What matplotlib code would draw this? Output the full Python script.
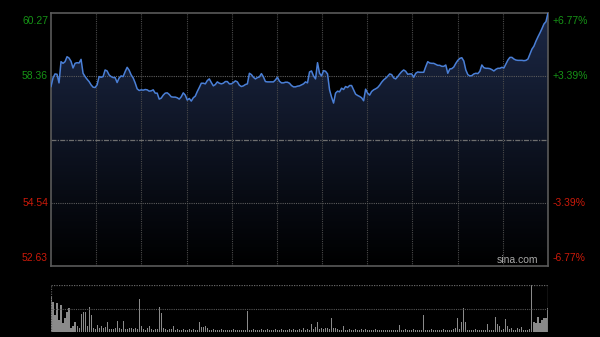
import numpy as np
import matplotlib
matplotlib.use("Agg")
import matplotlib.pyplot as plt
from matplotlib.colors import LinearSegmentedColormap
import matplotlib.transforms as mtransforms

prev_close = 56.45
y_low, y_high = 52.63, 60.27
left_ticks = ["60.27", "58.36", "54.54", "52.63"]
right_ticks = ["+6.77%", "+3.39%", "-3.39%", "-6.77%"]
tick_values = [60.27, 58.36, 54.54, 52.63]

price = [
    58.05, 58.31, 58.43, 58.42, 58.16, 58.80, 58.75, 58.80, 58.95, 58.91,
    58.81, 58.61, 58.75, 58.77, 58.76, 58.87, 58.45, 58.35, 58.27, 58.20,
    58.10, 58.03, 58.02, 58.10, 58.35, 58.33, 58.35, 58.55, 58.52, 58.40,
    58.35, 58.32, 58.32, 58.17, 58.31, 58.37, 58.35, 58.50, 58.63, 58.54,
    58.40, 58.31, 58.16, 57.98, 57.93, 57.95, 57.94, 57.96, 57.95, 57.91,
    57.92, 57.95, 57.85, 57.85, 57.67, 57.70, 57.79, 57.85, 57.86, 57.81,
    57.74, 57.73, 57.73, 57.71, 57.67, 57.74, 57.86, 57.79, 57.64, 57.69,
    57.61, 57.71, 57.76, 57.90, 58.02, 58.15, 58.15, 58.13, 58.23, 58.28,
    58.17, 58.07, 58.11, 58.19, 58.15, 58.13, 58.15, 58.20, 58.20, 58.13,
    58.13, 58.17, 58.22, 58.19, 58.09, 58.05, 58.07, 58.11, 58.13, 58.45,
    58.41, 58.33, 58.28, 58.32, 58.34, 58.44, 58.34, 58.20, 58.19, 58.19,
    58.19, 58.19, 58.25, 58.33, 58.21, 58.16, 58.16, 58.18, 58.18, 58.15,
    58.08, 58.04, 58.04, 58.06, 58.07, 58.10, 58.13, 58.19, 58.16, 58.49,
    58.52, 58.37, 58.28, 58.77, 58.45, 58.37, 58.53, 58.51, 58.43, 57.95,
    57.73, 57.55, 57.85, 57.91, 57.89, 58.00, 57.96, 58.05, 58.02, 58.08,
    58.08, 57.95, 57.82, 57.78, 57.75, 57.71, 57.62, 57.97, 57.85, 57.79,
    57.90, 57.95, 57.98, 58.02, 58.09, 58.18, 58.25, 58.30, 58.36, 58.43,
    58.41, 58.31, 58.28, 58.35, 58.43, 58.50, 58.55, 58.51, 58.42, 58.43,
    58.43, 58.33, 58.45, 58.49, 58.48, 58.48, 58.48, 58.65, 58.80, 58.76,
    58.75, 58.75, 58.72, 58.69, 58.69, 58.66, 58.66, 58.70, 58.45, 58.58,
    58.59, 58.64, 58.75, 58.84, 58.90, 58.92, 58.82, 58.55, 58.41, 58.37,
    58.38, 58.43, 58.45, 58.44, 58.51, 58.70, 58.62, 58.60, 58.60, 58.59,
    58.56, 58.52, 58.57, 58.60, 58.60, 58.63, 58.61, 58.73, 58.85, 58.93,
    58.93, 58.88, 58.85, 58.84, 58.84, 58.84, 58.83, 58.84, 58.88, 59.03,
    59.18, 59.27, 59.42, 59.55, 59.67, 59.80, 59.94, 60.01, 60.27,
]

volume = [
    36, 30, 17, 29, 12, 27, 9, 14, 20, 24,
    4, 6, 10, 6, 4, 18, 20, 20, 6, 25,
    17, 4, 3, 7, 4, 6, 4, 5, 10, 3,
    3, 3, 4, 11, 4, 3, 11, 3, 3, 4,
    4, 3, 4, 3, 33, 6, 3, 2, 4, 6,
    3, 2, 3, 3, 25, 19, 4, 3, 2, 3,
    3, 6, 2, 3, 2, 2, 3, 2, 2, 3,
    2, 3, 2, 2, 10, 5, 5, 6, 4, 2,
    2, 3, 2, 2, 2, 3, 2, 2, 2, 2,
    2, 3, 2, 2, 2, 2, 2, 2, 21, 2,
    2, 3, 2, 2, 2, 3, 2, 2, 3, 2,
    2, 2, 3, 2, 2, 3, 2, 2, 2, 3,
    2, 3, 2, 2, 3, 2, 4, 2, 3, 2,
    8, 3, 5, 10, 3, 4, 3, 4, 4, 3,
    14, 4, 4, 3, 2, 2, 6, 2, 2, 3,
    2, 2, 3, 2, 2, 3, 2, 3, 2, 2,
    2, 2, 3, 2, 2, 2, 2, 2, 2, 2,
    2, 2, 2, 2, 7, 2, 2, 3, 2, 2,
    2, 3, 2, 2, 2, 2, 17, 2, 2, 2,
    3, 2, 2, 2, 2, 2, 3, 2, 2, 2,
    2, 3, 4, 14, 3, 10, 24, 10, 2, 2,
    2, 2, 3, 2, 2, 2, 2, 2, 8, 2,
    2, 2, 15, 8, 6, 2, 3, 13, 6, 3,
    4, 2, 2, 4, 3, 5, 2, 2, 2, 3,
    47, 10, 9, 15, 9, 12, 14, 14, 24,
]

green = "#169416"
red = "#cc1a0a"
line_blue = "#4a7fd6"
grid_c = "#4a4a4a"

fig = plt.figure(figsize=(6, 3.37), dpi=100, facecolor="black")

# price panel
ax = fig.add_axes([0.085, 0.2107, 0.8283, 0.7507])
ax.set_facecolor("black")
x = np.arange(len(price))
xmax = len(price) - 1

poly = ax.fill_between(x, price, y_low, color="none", lw=0)
fade = LinearSegmentedColormap.from_list("fade", ["#000000", "#1c2846"])
grad = np.linspace(0, 1, 256).reshape(-1, 1)
img = ax.imshow(grad, extent=[0, xmax, y_low, y_high], origin="lower",
                aspect="auto", cmap=fade, zorder=1)
img.set_clip_path(poly.get_paths()[0], ax.transData)

ax.plot(x, price, color=line_blue, lw=1.1, zorder=3)

ax.set_xlim(0, xmax)
ax.set_ylim(y_low, y_high)

for k in range(1, 11):
    ax.axvline(xmax * k / 11, color=grid_c, lw=0.8, ls=(0, (1, 1)), zorder=2)
for v in [58.36, 54.54]:
    ax.axhline(v, color="#5c5c5c", lw=0.8, ls=(0, (1, 1)), zorder=2)
ax.axhline(prev_close, color="#6e6e6e", lw=0.9, ls=(0, (4, 1, 1, 1)), zorder=2)

for s in ax.spines.values():
    s.set_color("#5a5a5a")
    s.set_linewidth(1.2)
ax.set_xticks([])
ax.set_yticks([])

trans = mtransforms.blended_transform_factory(ax.transAxes, ax.transData)
vas = ["top", "center", "center", "bottom"]
offs = [-0.1, 0, 0, 0.1]
for lab, rlab, v, va, off in zip(left_ticks, right_ticks, tick_values, vas, offs):
    c = green if v > prev_close else red
    ax.text(-0.006, v + off, lab, transform=trans, ha="right", va=va,
            color=c, fontsize=7.5, family="Liberation Sans")
    ax.text(1.01, v + off, rlab, transform=trans, ha="left", va=va,
            color=c, fontsize=7.5, family="Liberation Sans")

ax.text(0.98, 0.005, "sina.com", transform=ax.transAxes, ha="right", va="bottom",
        color="#a8a8a8", fontsize=7.5, family="Liberation Sans", zorder=4)

# volume panel
vx = fig.add_axes([0.085, 0.0148, 0.8283, 0.1395])
vx.set_facecolor("black")
vx.bar(x, volume, width=0.55, color="#8a8a8a", zorder=2)
vmax = max(volume)
vx.set_xlim(0, xmax)
vx.set_ylim(0, vmax)
vx.axhline(vmax, color="#666666", lw=0.9, ls=(0, (1, 1)))
vx.axhline(vmax / 2, color="#555555", lw=0.8, ls=(0, (1, 1)))
vx.axvline(0, color="#555555", lw=0.9, ls=(0, (1, 1)))
vx.axvline(xmax, color="#5a5a5a", lw=1.0)
for s in vx.spines.values():
    s.set_visible(False)
vx.set_xticks([])
vx.set_yticks([])

fig.savefig("out.png", dpi=100, facecolor="black")
